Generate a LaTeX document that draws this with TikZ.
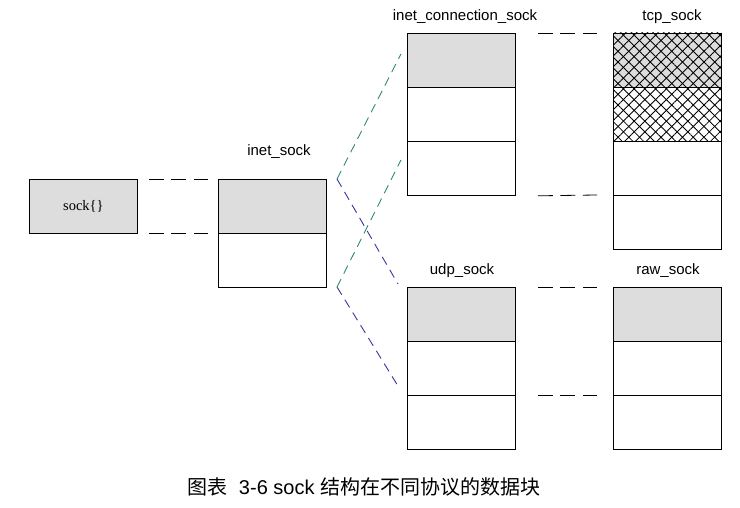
\documentclass[tikz,border=0pt]{standalone}
\usepackage{fontspec}
\setmainfont{Liberation Sans}
\newfontfamily\cjk{Noto Sans CJK SC}
\newfontfamily\serifont{Liberation Serif}
\usetikzlibrary{patterns.meta}
\definecolor{boxgray}{HTML}{DDDDDD}
\definecolor{lgreen}{HTML}{2E8B6E}
\definecolor{lblue}{HTML}{3A32A0}
\tikzset{
  x=1pt, y=-1pt,
  cell/.style={draw=black, line width=0.8pt, minimum width=108pt, minimum height=54pt, inner sep=0pt, anchor=north west},
  grayc/.style={cell, fill=boxgray},
  whitec/.style={cell, fill=white},
  lbl/.style={font=\fontsize{15}{17}\selectfont, inner sep=0pt},
  gap/.style={draw=black, line width=0.8pt, dash pattern=on 15pt off 7.5pt},
  gdash/.style={draw=lgreen, line width=0.9pt, dash pattern=on 9pt off 6pt},
  bdash/.style={draw=lblue, line width=0.9pt, dash pattern=on 9pt off 6pt},
  hatch/.style={pattern={Lines[angle=45,distance=7.6pt,line width=0.8pt]}},
  hatchb/.style={pattern={Lines[angle=-45,distance=7.6pt,line width=0.8pt]}}
}
\begin{document}
\begin{tikzpicture}
\useasboundingbox (0,0) rectangle (740,508);
% sock
\node[grayc] (sock) at (29,179) {\serifont\fontsize{14.5}{16}\selectfont sock\{\}};
% inet_sock
\node[grayc] (is1) at (218,179) {};
\node[whitec] (is2) at (218,233) {};
\node[lbl] (islbl) at (279,152) {inet\_sock};
% inet_connection_sock
\node[grayc] (ic1) at (407,33) {};
\node[whitec] (ic2) at (407,87) {};
\node[whitec] (ic3) at (407,141) {};
\node[lbl] (iclbl) at (465,17) {inet\_connection\_sock};
% tcp_sock
\node[grayc] (tc1) at (613,33) {};
\node[whitec] (tc2) at (613,87) {};
\fill[hatch] (tc1.north west) rectangle (tc2.south east);
\fill[hatchb] (tc1.north west) rectangle (tc2.south east);
\draw[line width=0.8pt] (tc1.north west) rectangle (tc1.south east);
\draw[line width=0.8pt] (tc2.north west) rectangle (tc2.south east);
\node[whitec] (tc3) at (613,141) {};
\node[whitec] (tc4) at (613,195) {};
\node[lbl] (tclbl) at (672,17) {tcp\_sock};
% udp_sock
\node[grayc] (ud1) at (407,287) {};
\node[whitec] (ud2) at (407,341) {};
\node[whitec] (ud3) at (407,395) {};
\node[lbl] (udlbl) at (462,271) {udp\_sock};
% raw_sock
\node[grayc] (rw1) at (613,287) {};
\node[whitec] (rw2) at (613,341) {};
\node[whitec] (rw3) at (613,395) {};
\node[lbl] (rwlbl) at (668,271) {raw\_sock};
% gap dashes
\draw[gap] ([xshift=11pt]sock.north east) -- ([xshift=-10pt]is1.north west);
\draw[gap] ([xshift=11pt]sock.south east) -- ([xshift=-10pt]is1.south west);
\draw[gap] ([xshift=22pt]ic1.north east) -- ([xshift=-16pt]tc1.north west);
\draw[gap] ([xshift=22pt]ic3.south east) -- ([xshift=-16pt]tc4.north west);
\draw[gap] ([xshift=22pt]ud1.north east) -- ([xshift=-16pt]rw1.north west);
\draw[gap] ([xshift=22pt]ud3.north east) -- ([xshift=-16pt]rw3.north west);
% fan-out lines
\coordinate (pa) at (337,179);
\coordinate (pb) at (337,287);
\draw[gdash] (pa) -- ([xshift=-6pt,yshift=-21pt]ic1.north west);
\draw[gdash] (pb) -- ([xshift=-6pt,yshift=-19pt]ic3.north west);
\draw[bdash] (pa) -- ([xshift=-9pt,yshift=3pt]ud1.north west);
\draw[bdash] (pb) -- ([xshift=-9pt,yshift=9pt]ud3.north west);
% caption
\node[inner sep=0pt, font=\fontsize{20}{24}\selectfont] (cap) at (364,487) {{\cjk 图表}\ \ 3-6 sock {\cjk 结构在不同协议的数据块}};
\end{tikzpicture}
\end{document}
